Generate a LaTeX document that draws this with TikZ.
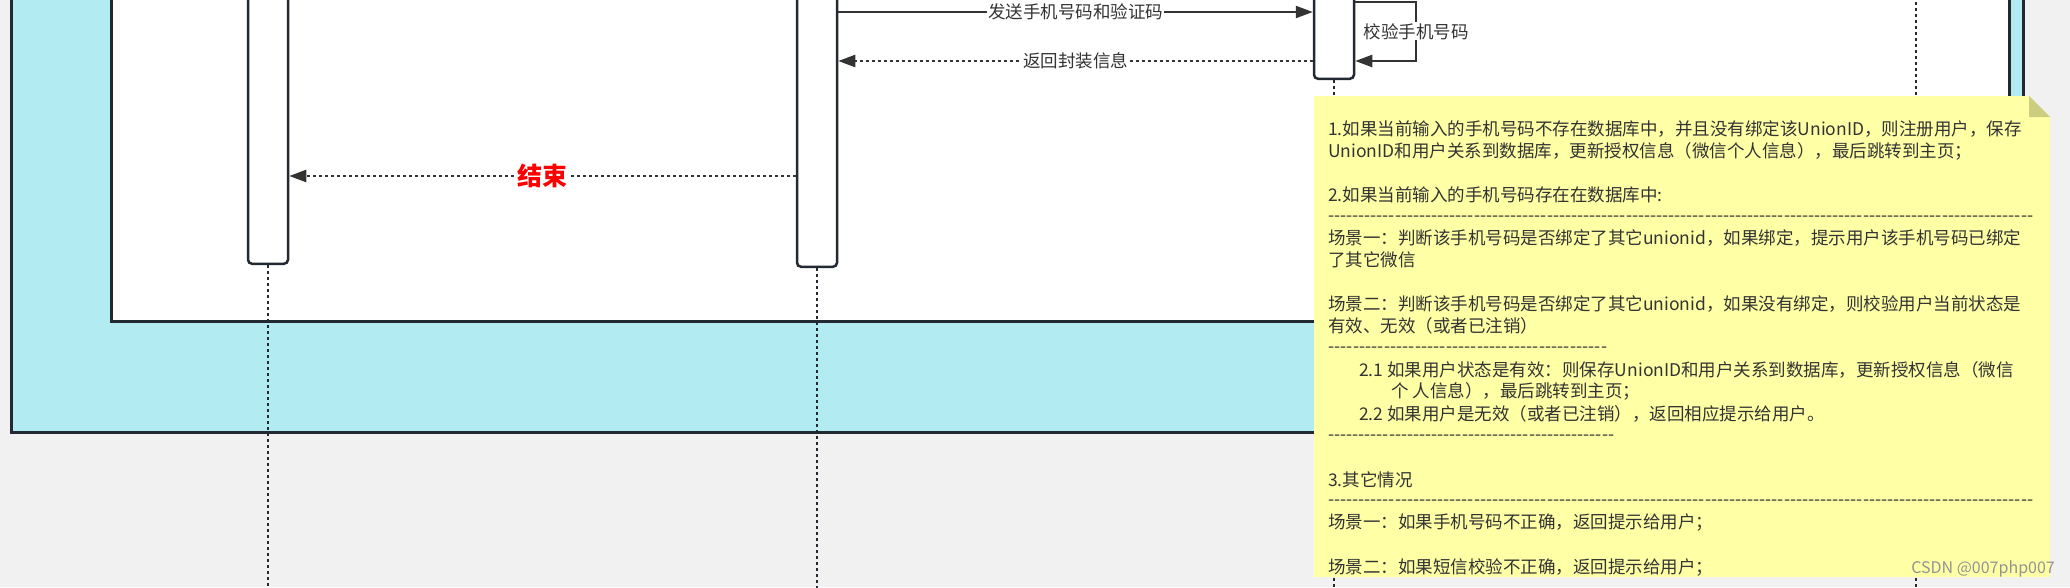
\documentclass[tikz,border=0pt]{standalone}
\usepackage{fontspec}
\setmainfont{Noto Sans CJK SC}
\usepackage{tikz}
\usetikzlibrary{arrows.meta,positioning}
\definecolor{bggray}{RGB}{241,241,241}
\definecolor{framecyan}{RGB}{178,235,242}
\definecolor{edgedark}{RGB}{35,41,48}
\definecolor{inkgray}{RGB}{51,51,51}
\definecolor{noteyellow}{RGB}{255,255,166}
\definecolor{notefold}{RGB}{205,205,128}
\newcommand{\dashrow}[1]{\hbox to #1{\xleaders\hbox{-}\hfill}}

\begin{document}
\begin{tikzpicture}[x=1pt,y=-1pt,
  actbar/.style={draw=edgedark, line width=2.5pt, fill=white, rounded corners=4pt, minimum width=40pt, inner sep=0pt, anchor=south},
  lifeline/.style={draw=edgedark, line width=2.5pt, dash pattern=on 2.5pt off 3.5pt},
  msg/.style={draw=inkgray, line width=2.3pt, -{Triangle[length=17pt,width=12pt]}},
  reply/.style={msg, dash pattern=on 2.5pt off 3.5pt},
  lbl/.style={fill=white, text=inkgray, inner sep=1pt, font=\fontsize{17.5}{20}\selectfont},
  notetxt/.style={anchor=west, inner sep=0pt, text=inkgray, font=\fontsize{17.5}{20}\selectfont}]
\useasboundingbox (0,0) rectangle (2070,587);
\clip (0,0) rectangle (2070,587);
\fill[bggray] (0,0) rectangle (2070,587);
\draw[fill=framecyan, draw=edgedark, line width=3pt] (11,-20) rectangle (2023,432);
\draw[fill=white, draw=edgedark, line width=3pt] (111,-20) rectangle (2009,321);

\node[actbar, minimum height=290pt] (bar1) at (268,265) {};
\node[actbar, minimum height=293pt] (bar2) at (817,268) {};
\node[actbar, minimum height=105pt] (bar3) at (1334,80) {};
\coordinate (foot1) at (268,600);
\coordinate (foot2) at (817,600);
\coordinate (foot3) at (1334,600);
\coordinate (head4) at (1916,-10);
\coordinate (foot4) at (1916,600);
\draw[lifeline] (bar1.south) -- (foot1);
\draw[lifeline] (bar2.south) -- (foot2);
\draw[lifeline] (bar3.south) -- (foot3);
\draw[lifeline] (head4) -- (foot4);

\coordinate (send) at (0,12);
\coordinate (loopA) at (1416,1.7);
\coordinate (loopB) at (1416,61);
\coordinate (back) at (0,61);
\coordinate (fin) at (0,176);
\draw[msg] (bar2.east |- send) -- node[lbl] (sendlbl) {发送手机号码和验证码} (bar3.west |- send);
\draw[msg] (bar3.east |- loopA) -- (loopA) -- node[lbl] (looplbl) {校验手机号码} (loopB) -- (bar3.east |- loopB);
\draw[reply] (bar3.west |- back) -- node[lbl] (backlbl) {返回封装信息} (bar2.east |- back);
\draw[reply] (bar2.west |- fin) -- node[lbl, text=red, font=\fontsize{25}{28}\selectfont\bfseries] (finlbl) {结束} (bar1.east |- fin);

\fill[noteyellow] (1314,96) -- (2029,96) -- (2050,117) -- (2050,577) -- (1314,577) -- cycle;
\fill[notefold] (2029,96) -- (2029,117) -- (2050,117) -- cycle;
\node[notetxt] (n1) at (1328,129) {1.如果当前输入的手机号码不存在数据库中，并且没有绑定该UnionID，则注册用户，保存};
\node[notetxt] (n2) at (1328,151) {UnionID和用户关系到数据库，更新授权信息（微信个人信息），最后跳转到主页；};
\node[notetxt] (n3) at (1328,195) {2.如果当前输入的手机号码存在在数据库中:};
\node[notetxt] (d1) at (1328,218.5) {\dashrow{705pt}};
\node[notetxt] (n4) at (1328,238.5) {场景一：判断该手机号码是否绑定了其它unionid，如果绑定，提示用户该手机号码已绑定};
\node[notetxt] (n5) at (1328,260) {了其它微信};
\node[notetxt] (n6) at (1328,304.5) {场景二：判断该手机号码是否绑定了其它unionid，如果没有绑定，则校验用户当前状态是};
\node[notetxt] (n7) at (1328,326) {有效、无效（或者已注销）};
\node[notetxt] (d2) at (1328,350) {\dashrow{279pt}};
\node[notetxt] (n8) at (1359,370) {2.1 如果用户状态是有效：则保存UnionID和用户关系到数据库，更新授权信息（微信};
\node[notetxt] (n9) at (1391,391.5) {个 人信息），最后跳转到主页；};
\node[notetxt] (n10) at (1359,413.5) {2.2 如果用户是无效（或者已注销），返回相应提示给用户。};
\node[notetxt] (d3) at (1328,437.5) {\dashrow{286pt}};
\node[notetxt] (n11) at (1328,479.5) {3.其它情况};
\node[notetxt] (d4) at (1328,503) {\dashrow{705pt}};
\node[notetxt] (n12) at (1328,523) {场景一：如果手机号码不正确，返回提示给用户；};
\node[notetxt] (n13) at (1328,567) {场景二：如果短信校验不正确，返回提示给用户；};
\node[anchor=east, inner sep=0pt, text=gray!85, font=\fontsize{16}{17}\selectfont] (mark) at (2055,569) {CSDN @007php007};
\end{tikzpicture}
\end{document}
